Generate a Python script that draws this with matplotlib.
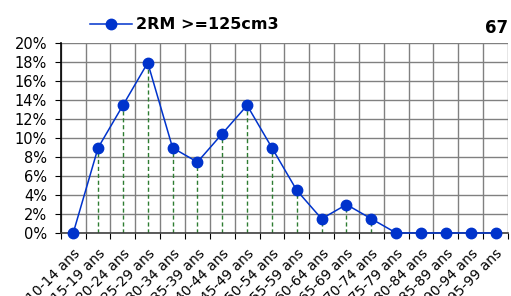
import matplotlib
matplotlib.use("Agg")
import matplotlib.pyplot as plt
import numpy as np

plt.rcParams["font.family"] = ["DejaVu Sans"]

_BLUE = "#0033cc"
_GREEN = "#2e7d32"
_GRID = "#808080"

age_groups = ["10-14 ans", "15-19 ans", "20-24 ans", "25-29 ans", "30-34 ans",
              "35-39 ans", "40-44 ans", "45-49 ans", "50-54 ans", "55-59 ans",
              "60-64 ans", "65-69 ans", "70-74 ans", "75-79 ans", "80-84 ans",
              "85-89 ans", "90-94 ans", "95-99 ans"]
shares = [0.0, 8.96, 13.43, 17.91, 8.96, 7.46, 10.45, 13.43, 8.96, 4.48,
          1.49, 2.99, 1.49, 0.0, 0.0, 0.0, 0.0, 0.0]
series_name = "2RM >=125cm3"
total = "67"

fig = plt.figure(figsize=(5.11, 2.96), dpi=100)
ax = fig.add_axes([0.119, 0.213, 0.875, 0.642])

x = np.arange(len(age_groups))
vals = np.array(shares) / 100

# droplines for non-zero points
for xi, v in zip(x, vals):
    if v > 0:
        ax.vlines(xi, 0, v, colors=_GREEN, linestyles=(0, (3, 2)), linewidth=1, zorder=2)

ax.plot(x, vals, color=_BLUE, linewidth=1.1, marker="o", markersize=7.5,
        label=series_name, zorder=3, clip_on=False)

ax.set_xlim(-0.5, len(age_groups) - 0.5)
ax.set_ylim(0, 0.20)
yt = np.arange(0, 0.201, 0.02)
ax.set_yticks(yt)
ax.set_yticklabels([f"{int(round(t * 100))}%" for t in yt], fontsize=10.5)

# gridlines at category boundaries, labels at centres
ax.set_xticks(np.arange(-0.5, len(age_groups), 1.0), minor=False)
ax.set_xticklabels([])
ax.set_xticks(x, minor=True)
ax.set_xticklabels(age_groups, minor=True, rotation=45, ha="right",
                   rotation_mode="anchor", fontsize=10)
ax.tick_params(axis="x", which="minor", length=0, pad=10)
ax.tick_params(axis="x", which="major", length=4, color="black")
ax.tick_params(axis="y", length=4, color="black", pad=6)
ax.grid(True, which="major", color=_GRID, linewidth=1)
ax.set_axisbelow(True)

for side in ["top", "right"]:
    ax.spines[side].set_visible(False)
ax.spines["left"].set_color("black")
ax.spines["bottom"].set_color("#404040")
ax.spines["left"].set_linewidth(1.2)
ax.spines["bottom"].set_linewidth(1.2)

ax.legend(loc="center left", bbox_to_anchor=(90 / 511, 0.916),
          bbox_transform=fig.transFigure, frameon=False, borderpad=0,
          prop={"weight": "bold", "size": 11.5},
          handlelength=2.6, handletextpad=0.3, borderaxespad=0)

fig.text(0.995, 0.905, total, ha="right", va="center", fontsize=12,
         fontweight="bold")

fig.savefig("out.png", dpi=100)
